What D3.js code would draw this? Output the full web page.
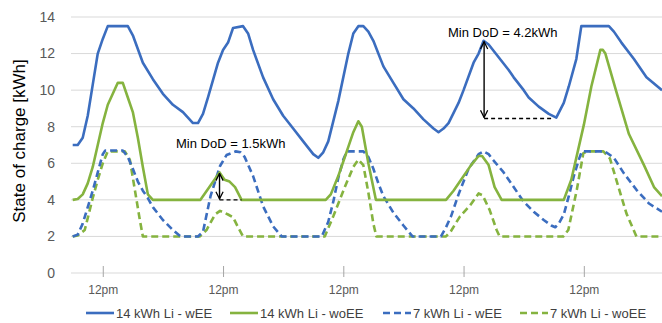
<!DOCTYPE html>
<html>
<head>
<meta charset="utf-8">
<script src="https://cdn.jsdelivr.net/npm/d3@7"></script>
<style>
  body { margin: 0; background: #fff; }
  svg text { font-family: "Liberation Sans", Arial, sans-serif; }
</style>
</head>
<body>
<svg id="chart" width="662" height="323"></svg>
<script>
// [hour since start, kWh]
var li14wEE = [[0,7.0],[1,7.0],[2,7.4],[3,8.6],[4,10.3],[5,12.0],[6,12.8],[7,13.5],[11,13.5],[12,13.0],[14,11.5],[16,10.6],[18,9.8],[20,9.2],[22,8.8],[24,8.2],[25,8.2],[26,8.7],[27,9.6],[29,11.5],[30,12.2],[31,12.6],[32,13.4],[34,13.5],[35,13.1],[36,12.2],[38,10.7],[40,9.5],[42,8.6],[44,7.9],[46,7.2],[48,6.5],[49,6.3],[50,6.6],[51,7.2],[53,9.4],[55,12.0],[56,13.1],[57,13.5],[58,13.5],[59,13.2],[60,12.7],[62,11.3],[64,10.4],[66,9.5],[68,9.0],[70,8.4],[72,7.9],[73,7.7],[74,7.9],[75,8.2],[77,9.3],[78,10.0],[80,11.5],[81,12.0],[82,12.7],[83,12.5],[85,11.8],[87,11.1],[88,10.7],[90,10.0],[91,9.6],[93,9.1],[95,8.7],[96.5,8.5],[98,9.3],[99,10.2],[100.5,11.7],[101.5,13.5],[107,13.5],[108,13.2],[109.5,12.6],[112,11.7],[114.5,10.7],[117.6,10.0]];

var li14woEE = [[0,4.0],[1,4.05],[2,4.3],[3,4.9],[4,5.8],[5,7.0],[6,8.2],[7,9.2],[8,9.8],[9,10.4],[10,10.4],[11,9.6],[12,8.8],[13,7.4],[14,5.8],[15,4.3],[16,4.0],[25.5,4.0],[29.3,5.5],[30.3,5.1],[31.3,5.0],[32.4,4.7],[33.7,4.0],[50.5,4.0],[51.5,4.3],[53,5.3],[54,6.1],[55,6.9],[56,7.7],[57,8.3],[57.7,8.0],[59,6.0],[60.5,4.0],[74.5,4.0],[76,4.5],[77.5,5.1],[79.5,5.9],[81,6.4],[81.7,6.4],[83,5.9],[84.2,4.7],[85.6,4.0],[98,4.0],[99.5,5.1],[102,8.1],[103.5,10.2],[105.3,12.2],[105.8,12.2],[106.3,12.0],[108.5,9.9],[111,7.6],[114,5.9],[116,4.7],[117.6,4.2]];

var li7wEE = [[0,2.0],[1,2.1],[2,2.7],[3,3.6],[4,4.5],[5,5.5],[6,6.5],[6.5,6.7],[10,6.7],[11,6.35],[12,5.7],[13,5.0],[14,4.5],[15,4.1],[16,3.6],[18,2.9],[20,2.35],[21.5,2.0],[25,2.0],[26,2.25],[27.5,4.2],[29.4,5.85],[30.7,6.45],[32.5,6.65],[33.5,6.6],[34.3,6.35],[36,5.3],[38,3.65],[40,2.55],[41.7,2.0],[49.7,2.0],[51,2.8],[52,3.9],[53,5.2],[54,6.2],[54.7,6.65],[58,6.65],[59,6.35],[60,5.7],[61,4.9],[62,4.2],[64,3.3],[66,2.6],[67.8,2.0],[73.5,2.0],[74.5,2.5],[75.5,3.1],[77,4.3],[78,5.0],[79,5.7],[80,6.1],[81,6.5],[82,6.65],[83,6.5],[84,6.15],[86,5.5],[88,4.7],[90,3.9],[92,3.35],[94,2.9],[95.5,2.6],[96.3,2.5],[97,2.7],[98,3.2],[99,4.2],[100,5.3],[101,6.2],[101.6,6.65],[106.2,6.65],[108,6.3],[110,5.45],[112.5,4.55],[115,3.8],[117.6,3.35]];

var li7woEE = [[0,2.0],[1,2.05],[2.4,2.35],[3,3.0],[4,4.1],[5,5.1],[6,6.0],[7,6.65],[10.4,6.65],[11.4,6.2],[12.4,4.55],[13.4,2.9],[14,2.0],[25.4,2.0],[26.7,2.35],[28.4,3.2],[29.4,3.4],[31,3.2],[32,3.05],[33,2.5],[34,2.0],[50.3,2.0],[52,3.1],[54.3,4.7],[56,5.8],[57,6.2],[58,5.9],[59,4.4],[60,2.7],[60.6,2.0],[74.5,2.0],[75.5,2.3],[77.3,3.1],[79.3,3.7],[81,4.35],[81.8,4.25],[83.2,3.45],[84.6,2.35],[85.2,2.0],[97.9,2.0],[98.9,2.35],[100.6,4.55],[101.9,6.55],[102.6,6.65],[105.9,6.65],[107.2,6.27],[108.5,5.08],[110.5,3.26],[112.5,2.0],[117.6,2.0]];

var seriesNames = ["14 kWh Li - wEE", "14 kWh Li - woEE", "7 kWh Li - wEE", "7 kWh Li - woEE"];
var tickHours = [6, 30, 54, 78, 102];
var tickLabels = ["12pm", "12pm", "12pm", "12pm", "12pm"];
var yTicks = [0, 2, 4, 6, 8, 10, 12, 14];

// min DoD annotations: [hour, top kWh, bottom kWh, dashed end hour, label]
var dodSmall = [29.3, 5.5, 4.0, 33.7, "Min DoD = 1.5kWh"];
var dodLarge = [82.1, 12.7, 8.45, 95.9, "Min DoD = 4.2kWh"];

const svg = d3.select("#chart");
const blue = "#3b6dbf", green = "#85b33f";

var x = d3.scaleLinear().domain([0, 117.6]).range([72.7, 662]);
var y = d3.scaleLinear().domain([0, 14]).range([273, 17]);

// grid
svg.append("g")
    .selectAll("line")
    .data(yTicks)
    .enter().append("line")
    .attr("x1", 71).attr("x2", 662)
    .attr("y1", function (d) { return y(d); })
    .attr("y2", function (d) { return y(d); })
    .attr("stroke", "#d9d9d9")
    .attr("stroke-width", 1);

// y labels
svg.append("g")
    .selectAll("text")
    .data(yTicks)
    .enter().append("text")
    .attr("x", 55)
    .attr("y", function (d) { return y(d); })
    .attr("dy", "0.35em")
    .attr("text-anchor", "end")
    .attr("font-size", 14)
    .attr("fill", "#595959")
    .text(function (d) { return d; });

svg.append("text")
    .attr("transform", "translate(25,141) rotate(-90)")
    .attr("text-anchor", "middle")
    .attr("font-size", 17)
    .attr("fill", "#000")
    .text("State of charge [kWh]");

// x axis
const xAxis = svg.append("g")
    .attr("transform", "translate(0," + y(0) + ")")
    .call(d3.axisBottom(x)
        .tickValues(tickHours)
        .tickSize(4)
        .tickPadding(8)
        .tickFormat(function (d, i) { return tickLabels[i]; }));
xAxis.select(".domain").remove();
xAxis.selectAll("line").attr("y1", -7).attr("stroke", "#a6a6a6");
xAxis.selectAll("text")
    .attr("font-size", 12)
    .attr("fill", "#595959")
    .attr("font-family", "Liberation Sans, Arial, sans-serif");

const line = d3.line()
    .x(function (d) { return x(d[0]); })
    .y(function (d) { return y(d[1]); });

var series = [
    {data: li14wEE, color: blue, dash: null},
    {data: li14woEE, color: green, dash: null},
    {data: li7wEE, color: blue, dash: "7,4"},
    {data: li7woEE, color: green, dash: "7,4"}
];

// draw dashed first, solid on top, like the original order
[3, 2, 1, 0].forEach(function (i) {
    svg.append("path")
        .datum(series[i].data)
        .attr("d", line)
        .attr("fill", "none")
        .attr("stroke", series[i].color)
        .attr("stroke-width", 2.6)
        .attr("stroke-linejoin", "round")
        .attr("stroke-dasharray", series[i].dash);
});

// arrow marker
const defs = svg.append("defs");
defs.append("marker")
    .attr("id", "arr")
    .attr("viewBox", "0 0 10 10")
    .attr("refX", 9).attr("refY", 5)
    .attr("markerWidth", 9).attr("markerHeight", 9)
    .attr("markerUnits", "userSpaceOnUse")
    .attr("orient", "auto-start-reverse")
    .append("path")
    .attr("d", "M1,1 L9,5 L1,9")
    .attr("fill", "none")
    .attr("stroke", "#000")
    .attr("stroke-width", 1.4);

[dodSmall, dodLarge].forEach(function (a) {
    svg.append("line")
        .attr("x1", x(a[0])).attr("x2", x(a[3]))
        .attr("y1", y(a[2])).attr("y2", y(a[2]))
        .attr("stroke", "#000")
        .attr("stroke-width", 1.4)
        .attr("stroke-dasharray", "4,3");
    svg.append("line")
        .attr("x1", x(a[0])).attr("x2", x(a[0]))
        .attr("y1", y(a[1]) + 1).attr("y2", y(a[2]) - 1)
        .attr("stroke", "#000")
        .attr("stroke-width", 1.4)
        .attr("marker-start", "url(#arr)")
        .attr("marker-end", "url(#arr)");
});

svg.append("text")
    .attr("x", 176).attr("y", 148)
    .attr("font-size", 13)
    .attr("fill", "#000")
    .text(dodSmall[4]);
svg.append("text")
    .attr("x", 448).attr("y", 37)
    .attr("font-size", 13)
    .attr("fill", "#000")
    .text(dodLarge[4]);

// legend
var legX = [86, 230, 383, 520];
const leg = svg.append("g")
    .selectAll("g")
    .data(seriesNames)
    .enter().append("g")
    .attr("transform", function (d, i) { return "translate(" + legX[i] + ",313)"; });
leg.append("line")
    .attr("x1", 0).attr("x2", 28)
    .attr("stroke", function (d, i) { return series[i].color; })
    .attr("stroke-width", 2.6)
    .attr("stroke-dasharray", function (d, i) { return series[i].dash; });
leg.append("text")
    .attr("x", 30)
    .attr("dy", "0.35em")
    .attr("font-size", 13)
    .attr("fill", "#404040")
    .text(function (d) { return d; });
</script>
</body>
</html>
